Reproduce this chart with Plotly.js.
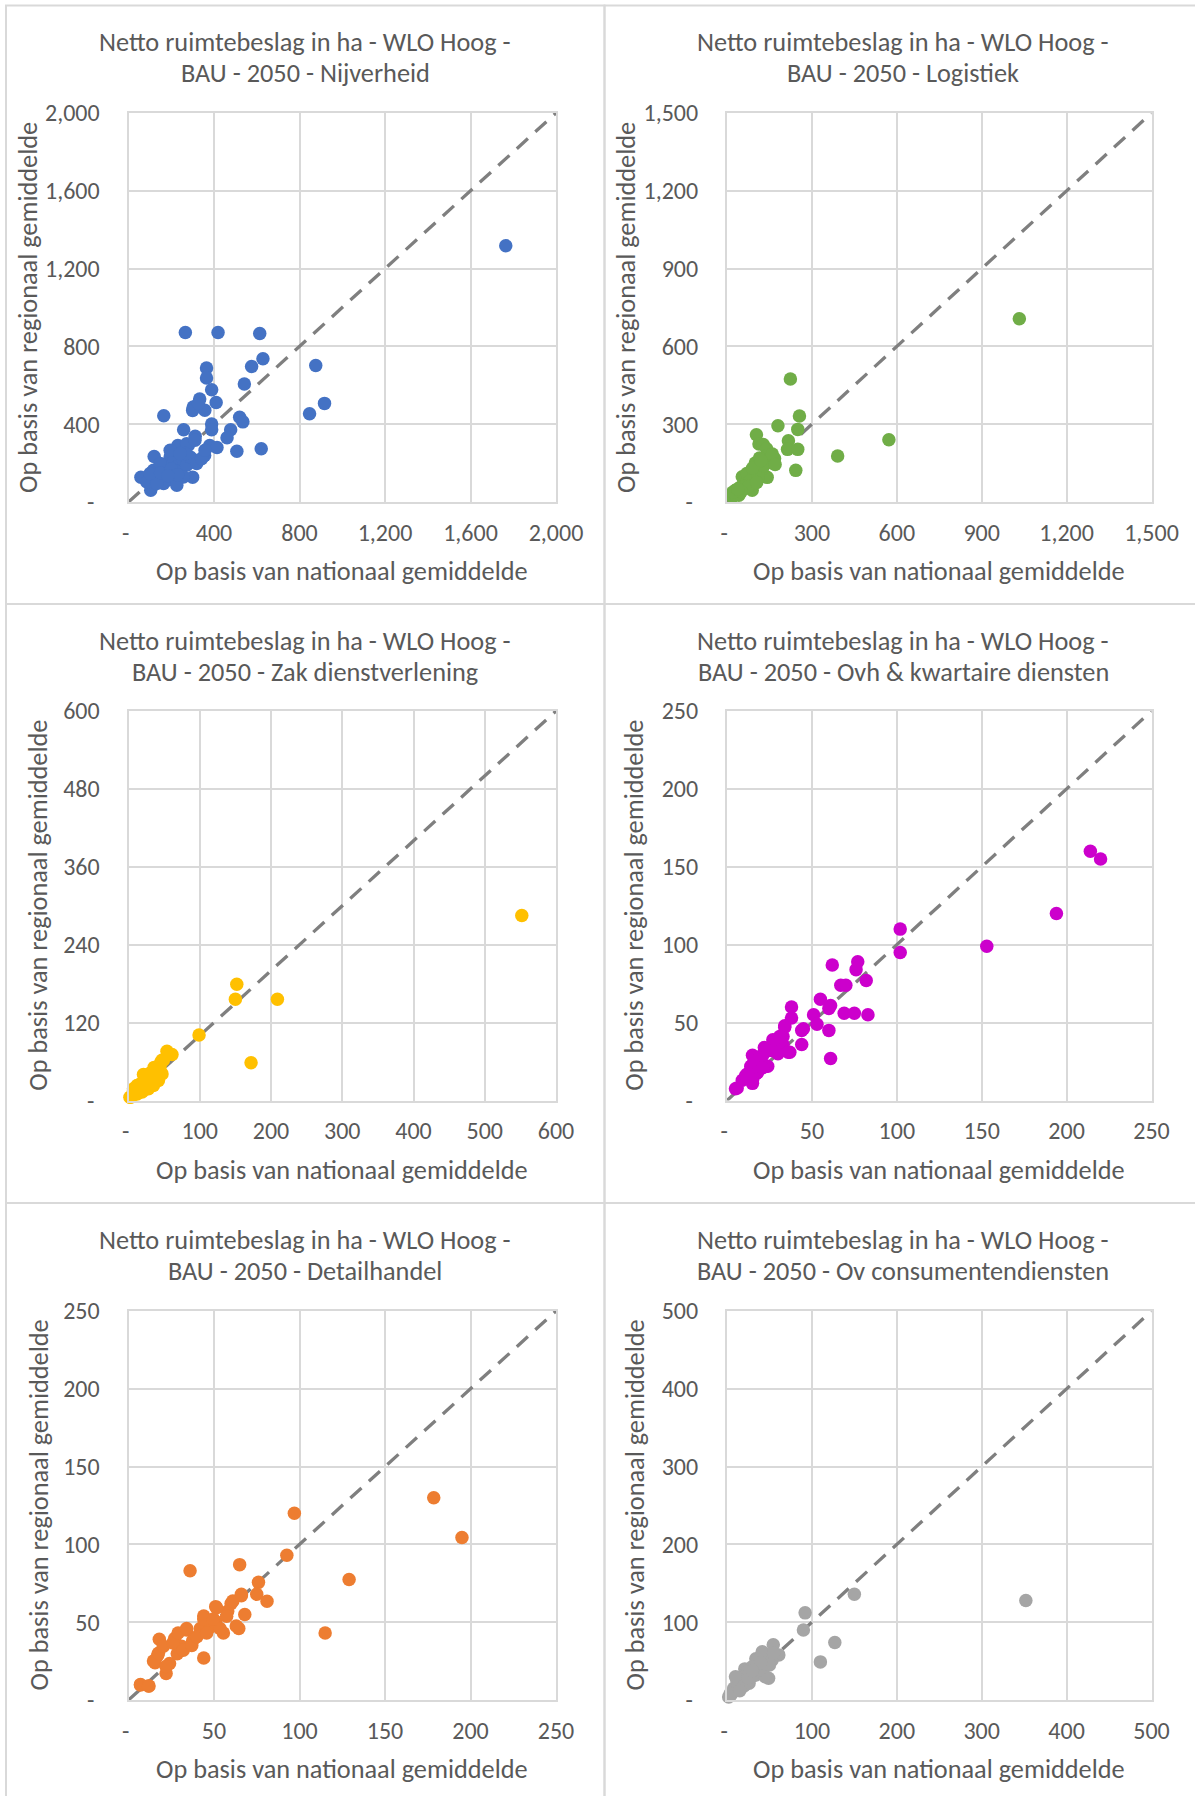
<!DOCTYPE html>
<html><head><meta charset="utf-8">
<script src="https://cdn.plot.ly/plotly-3.0.1.min.js"></script>
<style>html,body{margin:0;padding:0;background:#fff}#chart{width:1195px;height:1796px}</style>
</head><body><div id="chart"></div>
<script>
// ---------- DATA ----------
const titleLine1 = "Netto ruimtebeslag in ha - WLO Hoog -";
const sectorNames = ["Nijverheid", "Logistiek", "Zak dienstverlening", "Ovh & kwartaire diensten", "Detailhandel", "Ov consumentendiensten"];
const xAxisTitle = "Op basis van nationaal gemiddelde";
const yAxisTitle = "Op basis van regionaal gemiddelde";

const nijverheidTicks = [0, 400, 800, 1200, 1600, 2000];
const logistiekTicks = [0, 300, 600, 900, 1200, 1500];
const zakTicks = [0, 100, 200, 300, 400, 500, 600];
const zakYTicks = [0, 120, 240, 360, 480, 600];
const ovhTicks = [0, 50, 100, 150, 200, 250];
const detailTicks = [0, 50, 100, 150, 200, 250];
const consumTicks = [0, 100, 200, 300, 400, 500];

const nijverheidX = [1765,266,419,614,629,576,876,542,365,365,389,410,333,303,300,357,327,165,847,917,520,535,478,461,389,389,258,312,380,414,507,621,356,120,231,280,272,302,58,104,86,117,140,164,179,195,210,226,179,210,241,257,272,288,300,319,342,358,311,148,257,226,164,132,101,195,265,241,150,200,230,185];
const nijverheidY = [1317,872,872,866,736,697,702,607,689,637,577,512,529,488,471,472,506,443,454,507,436,412,372,330,401,372,371,338,291,280,261,274,239,234,291,292,300,219,127,61,103,163,129,163,198,232,206,181,112,146,163,215,189,232,127,198,223,266,317,198,129,86,95,95,146,266,249,249,150,170,140,135];

const logistiekX = [1033,224,256,250,180,104,113,128,140,217,214,250,243,391,572,168,142,155,160,142,124,95,83,54,66,89,48,24,19,42,30,70,100,115,80,60,35,28,110,130,75,50,90,120,170,105,20,38];
const logistiekY = [707,474,332,280,294,259,224,222,205,236,203,203,122,177,240,168,178,152,185,95,128,122,97,97,71,45,58,33,20,26,45,110,150,170,80,60,30,28,100,140,60,40,130,160,145,75,38,50];

const zakX = [552,152,150,209,172,99,54,61,49,3,7,12,17,23,21,28,34,36,42,44,35,25,47,39,12,7,2,7,16,26,35,40,44,33,42,47,12,28,19,30,38,45,8,15,22,32];
const zakY = [285,179,156,156,58,101,76,71,62,5,9,15,21,27,40,33,39,51,45,53,23,18,62,30,23,15,5,18,25,33,46,38,51,25,31,41,10,18,13,42,48,58,12,20,30,36];

const ovhX = [214,220,194,153,102,102,62,77,76,82,67,70,55,61,60,69,75,83,51,53,60,61,38,38,34,45,44,37,27,31,29,33,24,21,17,15,14,12,15,6,9,18,22,5,13,15,19,23,24,28,33,36,34,44,17,11,21,27,31,15,30];
const ovhY = [160,155,120,99,110,95,87,89,84,77,74,74,65,61,59,56,56,55,55,49,45,27,60,53,48,46,36,31,39,38,32,41,22,29,25,29,22,17,11,8,13,18,34,7.5,18,23,28,22,32,38,36,31,47,45,17,16,21,32,41,13,30];

const detailX = [178.5,195,97,92.6,129,115,36,65,76,75,81,66,60,68,51,44,64.5,55.5,44,34,27,18,15.5,22,7,12,42,51,58,48,37.5,31,24,17,28.5,7,11.7,14.6,17.5,22,20.4,26,29,34,32,37,40,44,51.5,53.5,57.4,63,61,66,45.7,49.6];
const detailY = [130,104.5,120,93,77.5,43,83,87,75.6,68,63.5,67,62,55,60,54,46,43,27,45,39.5,39,24,17,9.6,9,46,50.5,57,47,38,34.6,23.5,28.5,29.7,10,9,25,30,21.6,34.6,36.7,43,46,32,35,40.6,52,59.3,46,53.9,47.5,63.6,68,43,52];

const consumX = [352,150,92,90,127,110,54.5,61,49,43,34,21,12,5,30,41.5,35.6,29.7,23.8,18,12,8,4,26,34,43.5,53,10,20,45,37.6,2,15,25,50,55,40,30];
const consumY = [128,136,112,90,74,49,71,58,28,60,53,40,25,7,30.5,62,51.3,42.7,36.3,29.9,23.5,15,8.5,21.4,32,42.7,51,29.9,17.9,29.9,38.5,4,12,28,45,60,48,38];

// ---------- BUILD ----------
const W = 1195, H = 1796;
const fx = v => v / W;
const fy = v => 1 - v / H;
const FONT = "Carlito, Calibri, Lato, sans-serif";
const TXT = "#595959";

const panels = [
  {xs: nijverheidX, ys: nijverheidY, xt: nijverheidTicks, yt: nijverheidTicks, color: "#4472C4"},
  {xs: logistiekX, ys: logistiekY, xt: logistiekTicks, yt: logistiekTicks, color: "#70AD47"},
  {xs: zakX, ys: zakY, xt: zakTicks, yt: zakYTicks, color: "#FFC000"},
  {xs: ovhX, ys: ovhY, xt: ovhTicks, yt: ovhTicks, color: "#CC00CC"},
  {xs: detailX, ys: detailY, xt: detailTicks, yt: detailTicks, color: "#ED7D31"},
  {xs: consumX, ys: consumY, xt: consumTicks, yt: consumTicks, color: "#A5A5A5"}
];

const colX = [[128.5, 556], [727, 1151.5]];
const rowY = [[113, 502], [711, 1100.5], [1311, 1700]];
const rowOff = [0, 598.5, 1198];
const titleCX = [305, 903];
const yTitleX = [27.5, 625.5, 38, 634, 38, 634];

const fmt = v => v === 0 ? "-\u00a0" : v.toLocaleString("en-US");

const data = [];
const layout = {
  width: W, height: H,
  margin: {l: 0, r: 0, t: 0, b: 0},
  paper_bgcolor: "#ffffff", plot_bgcolor: "#ffffff",
  showlegend: false,
  font: {family: FONT, color: TXT},
  annotations: [], shapes: []
};

panels.forEach((p, i) => {
  const col = i % 2, row = Math.floor(i / 2);
  const n = i === 0 ? "" : String(i + 1);
  const xmax = p.xt[p.xt.length - 1], ymax = p.yt[p.yt.length - 1];
  const axCommon = {
    showgrid: true, gridcolor: "#d9d9d9", gridwidth: 2,
    zeroline: false, showline: true, mirror: true,
    linecolor: "#d9d9d9", linewidth: 2,
    ticks: "", tickmode: "array",
    tickfont: {family: FONT, size: 24, color: TXT},
    fixedrange: true
  };
  layout["xaxis" + n] = Object.assign({}, axCommon, {
    domain: [fx(colX[col][0]), fx(colX[col][1])],
    range: [0, xmax], anchor: "y" + n,
    tickvals: p.xt, ticktext: p.xt.map(fmt),
    ticklabelstandoff: 8
  });
  layout["yaxis" + n] = Object.assign({}, axCommon, {
    domain: [fy(rowY[row][1]), fy(rowY[row][0])],
    range: [0, ymax], anchor: "x" + n,
    tickvals: p.yt, ticktext: p.yt.map(fmt),
    ticklabelstandoff: 22
  });
  // diagonal 1:1 reference line
  data.push({
    type: "scatter", mode: "lines", xaxis: "x" + n, yaxis: "y" + n,
    x: [0, Math.min(xmax, ymax)], y: [0, Math.min(xmax, ymax)],
    line: {color: "#7f7f7f", width: 3.3, dash: "15px,10px"},
    hoverinfo: "skip", cliponaxis: false
  });
  data.push({
    type: "scatter", mode: "markers", xaxis: "x" + n, yaxis: "y" + n,
    x: p.xs, y: p.ys, name: sectorNames[i],
    marker: {color: p.color, size: 13.5},
    cliponaxis: false
  });
  const off = rowOff[row];
  layout.annotations.push(
    {xref: "paper", yref: "paper", x: fx(titleCX[col]), y: fy(42.4 + off), xanchor: "center", yanchor: "middle",
     text: titleLine1, showarrow: false, font: {family: FONT, size: 26.3, color: TXT}},
    {xref: "paper", yref: "paper", x: fx(titleCX[col]), y: fy(73.3 + off), xanchor: "center", yanchor: "middle",
     text: "BAU - 2050 - " + sectorNames[i], showarrow: false, font: {family: FONT, size: 26.3, color: TXT}},
    {xref: "paper", yref: "paper", x: fx((colX[col][0] + colX[col][1]) / 2), y: fy(571 + off), xanchor: "center", yanchor: "middle",
     text: xAxisTitle, showarrow: false, font: {family: FONT, size: 26.3, color: TXT}},
    {xref: "paper", yref: "paper", x: fx(yTitleX[i]), y: fy((rowY[row][0] + rowY[row][1]) / 2), xanchor: "center", yanchor: "middle",
     text: yAxisTitle, textangle: -90, showarrow: false, font: {family: FONT, size: 26.3, color: TXT}}
  );
});

// chart frames
const frameX = [[6, 604.5], [604.5, 1210]];
const frameY = [[5.5, 604], [604, 1203], [1203, 1810]];
frameY.forEach(fyr => frameX.forEach(fxr => {
  layout.shapes.push({type: "rect", xref: "paper", yref: "paper",
    x0: fx(fxr[0]), x1: fx(fxr[1]), y0: fy(fyr[1]), y1: fy(fyr[0]),
    line: {color: "#d9d9d9", width: 2}, layer: "below"});
}));

Plotly.newPlot("chart", data, layout, {displayModeBar: false, staticPlot: true});
</script>
</body></html>
